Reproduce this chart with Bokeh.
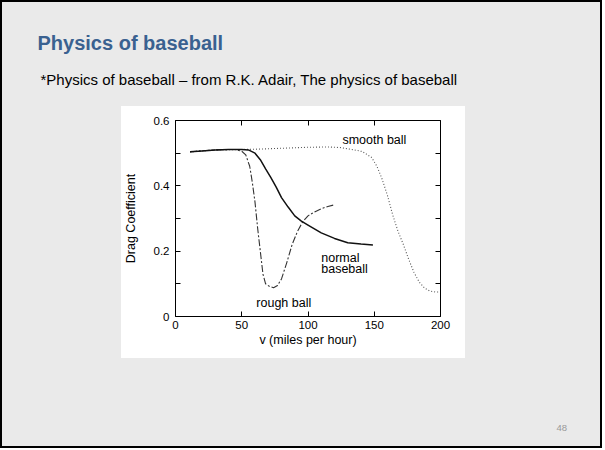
from bokeh.plotting import figure
from bokeh.models import Title, LinearAxis, FixedTicker, Range1d, ColumnDataSource
from bokeh.core.properties import value
from bokeh.embed import file_html
from bokeh.resources import INLINE

# ---- data ----
normal_v = [11, 20, 30, 40, 50, 55, 60, 64, 68, 72, 76, 80, 85, 90, 95, 100, 110, 120, 130, 140, 149]
normal_cd = [0.504, 0.507, 0.510, 0.511, 0.511, 0.510, 0.500, 0.480, 0.452, 0.425, 0.396, 0.364, 0.335, 0.308, 0.292, 0.280, 0.256, 0.239, 0.226, 0.222, 0.219]

rough_v = [11, 20, 30, 40, 45, 50, 53, 56, 58, 60, 62, 64, 66, 68, 71, 74, 77, 80, 84, 88, 92, 96, 100, 105, 110, 115, 120]
rough_cd = [0.504, 0.507, 0.510, 0.511, 0.511, 0.506, 0.495, 0.460, 0.410, 0.350, 0.270, 0.200, 0.130, 0.100, 0.092, 0.088, 0.095, 0.115, 0.165, 0.220, 0.260, 0.290, 0.308, 0.320, 0.330, 0.337, 0.342]

smooth_v = [11, 30, 45, 60, 80, 100, 115, 125, 135, 141, 148, 152, 156, 160, 164, 168, 172, 176, 180, 184, 188, 192, 196, 200]
smooth_cd = [0.504, 0.510, 0.511, 0.512, 0.515, 0.518, 0.519, 0.517, 0.510, 0.505, 0.487, 0.460, 0.420, 0.370, 0.310, 0.260, 0.220, 0.175, 0.135, 0.105, 0.087, 0.078, 0.075, 0.075]

x_ticks = [0, 50, 100, 150, 200]
x_tick_labels = ["0", "50", "100", "150", "200"]
y_ticks = [0, 0.2, 0.4, 0.6]
y_tick_labels = ["0", "0.2", "0.4", "0.6"]
y_minor_ticks = [0.1, 0.3, 0.5]

note_texts = ["smooth ball", "normal", "baseball", "rough ball"]
note_v = [126, 110, 110, 61]
note_cd = [0.540, 0.179, 0.146, 0.041]

title_text = "Physics of baseball"
subtitle_text = "*Physics of baseball \u2013 from R.K. Adair, The physics of baseball"
page_text = "48"
x_label = "v (miles per hour)"
y_label = "Drag Coefficient"

FONT = "Liberation Sans"
W, H = 602, 448
FL, FR, FT, FB = 175, 440, 120, 316  # frame box in canvas px
SLIDE_BG = "#eaeaea"

p = figure(width=W, height=H, output_backend="svg", toolbar_location=None,
           x_range=Range1d(0, 200), y_range=Range1d(0, 0.6),
           x_axis_location=None, y_axis_location=None,
           min_border_left=FL, min_border_right=W - FR,
           min_border_top=FT, min_border_bottom=H - FB)
p.background_fill_color = "white"
p.border_fill_color = None
p.outline_line_color = None
p.grid.visible = False
# slide background: black edge, grey slide, white picture box
p.styles = {
    "background": (
        "linear-gradient(#ffffff,#ffffff) 121px 106px / 344px 252px no-repeat, "
        f"linear-gradient({SLIDE_BG},{SLIDE_BG}) 2px 2px / {W - 4}px {H - 4}px no-repeat, "
        "#000000"
    )
}


def style_axis(ax):
    ax.major_tick_in = 5
    ax.major_tick_out = 0
    ax.minor_tick_in = 5
    ax.minor_tick_out = 0
    ax.axis_line_color = "black"
    ax.major_tick_line_color = "black"
    ax.minor_tick_line_color = "black"
    ax.major_label_text_font = FONT
    ax.major_label_text_font_size = "11.5px"
    ax.major_label_text_color = "black"
    ax.axis_label_text_font = FONT
    ax.axis_label_text_font_style = "normal"
    ax.axis_label_text_font_size = "12.5px"
    ax.axis_label_text_color = "black"


def spacer_axis(size):
    # invisible axis used only to reserve room in a side panel
    ax = LinearAxis(ticker=FixedTicker(ticks=[0], minor_ticks=[]),
                    major_label_overrides={0: ""})
    ax.axis_line_color = None
    ax.major_tick_line_color = None
    ax.minor_tick_line_color = None
    ax.major_tick_in = 0
    ax.major_tick_out = size
    ax.minor_tick_in = 0
    ax.minor_tick_out = 0
    ax.major_label_standoff = 0
    ax.major_label_text_font_size = "0px"
    return ax


xb = LinearAxis(ticker=FixedTicker(ticks=x_ticks, minor_ticks=[]),
                major_label_overrides=dict(zip(x_ticks, x_tick_labels)),
                axis_label=x_label)
style_axis(xb)
xb.major_label_standoff = 4
xb.axis_label_standoff = 1
p.add_layout(xb, "below")

xt = LinearAxis(ticker=FixedTicker(ticks=x_ticks, minor_ticks=[]),
                major_label_overrides={t: "" for t in x_ticks})
style_axis(xt)
p.add_layout(xt, "above")

yl = LinearAxis(ticker=FixedTicker(ticks=y_ticks, minor_ticks=y_minor_ticks),
                major_label_overrides=dict(zip(y_ticks, y_tick_labels)),
                axis_label=y_label)
style_axis(yl)
yl.major_label_standoff = 6
yl.axis_label_standoff = 13
p.add_layout(yl, "left")

yr = LinearAxis(ticker=FixedTicker(ticks=y_ticks, minor_ticks=y_minor_ticks),
                major_label_overrides={t: "" for t in y_ticks})
style_axis(yr)
p.add_layout(yr, "right")

# curves
p.line(smooth_v, smooth_cd, line_color="#555555", line_width=1.1, line_dash="1 2")
p.line(rough_v, rough_cd, line_color="#333333", line_width=1.1, line_dash="7 2 2 2")
p.line(normal_v, normal_cd, line_color="#111111", line_width=1.5)

src = ColumnDataSource(dict(x=note_v, y=note_cd, t=note_texts))
p.text(x="x", y="y", text="t", source=src, text_font=value(FONT),
       text_font_size="12.5px", text_color="black", text_baseline="alphabetic")

# slide texts (side-panel titles)
p.add_layout(spacer_axis(25), "above")
p.add_layout(Title(text=subtitle_text, align="left", offset=40 - FL,
                   text_font=FONT, text_font_size="15px", text_font_style="normal",
                   text_color="black", standoff=16), "above")
p.add_layout(Title(text=title_text, align="left", offset=37 - FL,
                   text_font=FONT, text_font_size="20px", text_font_style="bold",
                   text_color="#3a6190", standoff=13), "above")
p.add_layout(spacer_axis(71), "below")
p.add_layout(Title(text=page_text, align="left", offset=556 - FL,
                   text_font=FONT, text_font_size="9.5px", text_font_style="normal",
                   text_color="#999999", standoff=4), "below")

open("out.html", "w").write(file_html(p, INLINE))
